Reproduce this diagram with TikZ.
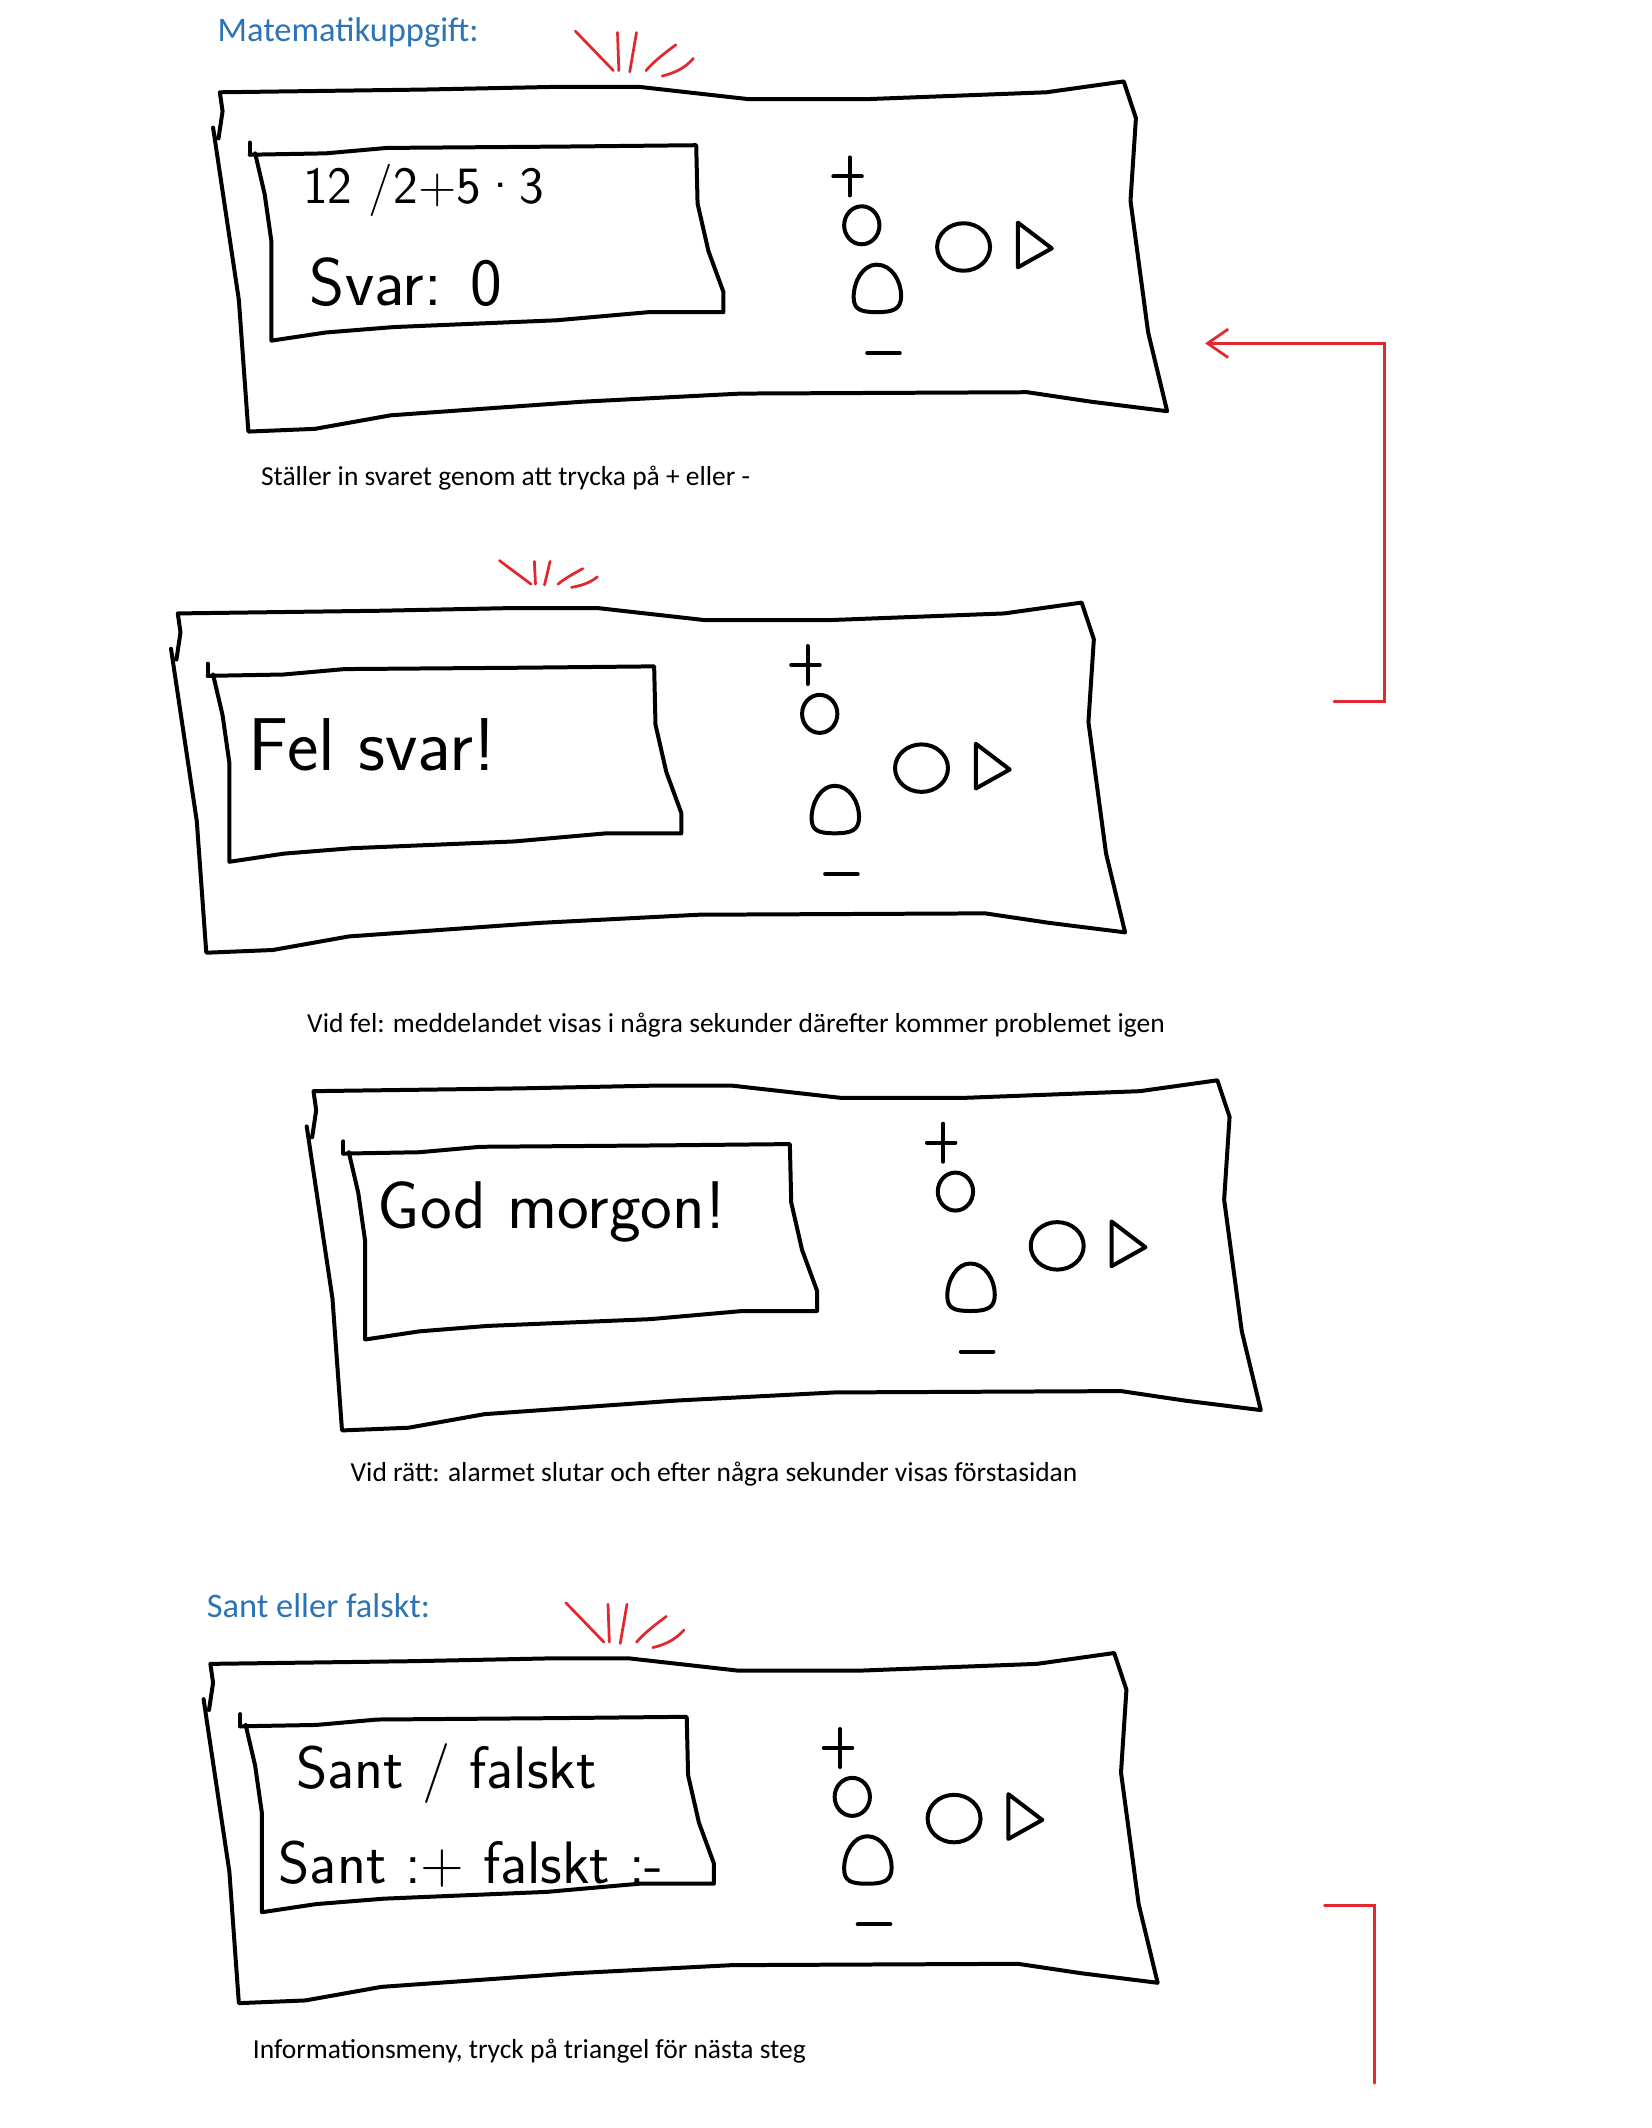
\documentclass[tikz,border=0pt]{standalone}
\usepackage{fontspec}
\setmainfont{Carlito}
\usetikzlibrary{arrows.meta}
\definecolor{headblue}{HTML}{2E74B5}
\definecolor{alarmred}{HTML}{E0282E}
\tikzset{
  pen/.style={line width=1.6pt, line join=round, line cap=round},
  redpen/.style={alarmred, line width=1.1pt, line cap=round},
  heading/.style={anchor=west, inner sep=0pt, text=headblue, font=\fontsize{13.8}{16}\selectfont},
  caption/.style={anchor=west, inner sep=0pt, font=\fontsize{11}{13}\selectfont},
  hand/.style={anchor=base west, inner sep=0pt, font=\sffamily\fontsize{#1}{#1}\selectfont},
  pics/device/.style={code={
    \draw[pen] (-1,34) -- (2,14) -- (0,0) -- (150,-2) -- (248,-4) -- (309,-4) -- (389,5) -- (478,5) -- (609,0) -- (666,-8)
      -- (675,19) -- (671,80) -- (684,177) -- (698,235)
      -- (642,228) -- (595,221) -- (384,222) -- (267,228) -- (126,238) -- (70,248) -- (21,250)
      -- (14,153) -- (-5,26);
    \draw[pen] (22,37) -- (22,46);
    \draw[pen] (22,46) -- (78,45) -- (123,41) -- (253,40) -- (351,39)
      -- (352,82) -- (360,117) -- (371,147) -- (371,162)
      -- (316,162) -- (248,168) -- (128,173) -- (78,177) -- (38,183)
      -- (38,110) -- (33,75) -- (26,45);
  }},
  pics/keypad/.style={code={
    \draw[pen] (452,{62-#1}) -- (473,{62-#1}) (464,{48-#1}) -- (464,{76-#1});
    \draw[pen] (473,{98-#1}) ellipse [x radius=13, y radius=14];
    \draw[pen] (484,127) .. controls (495,127) and (502,139) .. (502,150)
      .. controls (502,160) and (496,162) .. (484,162)
      .. controls (472,162) and (467,160) .. (467,151)
      .. controls (467,139) and (474,127) .. cycle;
    \draw[pen] (548,114) ellipse [x radius=19.5, y radius=17.5];
    \draw[pen] (588,96) -- (613,115) -- (588,129) -- cycle;
    \draw[pen] (477,192) -- (501,192);
  }},
  pics/alarm/.style={code={
    \draw[redpen] (0,0) -- (28,29) (31,1) -- (32,29) (45,1) -- (40,30)
      (74,10) .. controls (66,16) and (58,22) .. (52,29)
      (87,20) .. controls (80,28) and (72,31) .. (64,33);
  }}
}

\begin{document}
\begin{tikzpicture}[x=0.0191cm, y=-0.0191cm]
\useasboundingbox (0,0) rectangle (1217,1568);

\node[heading] (matrubrik) at (160,24) {Matematikuppgift:};
\pic at (162,68) {device};
\pic at (162,68) {keypad=0};
\pic at (424,23) {alarm};
\node[hand=21] (uttryck) at (223,150) {12 /2+5·3};
\node[hand=27] (svar) at (228,225) {Svar: 0};
\node[caption] (installning) at (192,352) {Ställer in svaret genom att trycka på + eller -};

\pic at (131,452) {device};
\pic at (131,452) {keypad=24};
\pic[xscale=0.83, yscale=0.6] at (368,413) {alarm};
\node[hand=30] (felsvar) at (183,568) {Fel svar!};
\node[caption] (vidfel) at (226,755) {Vid fel: meddelandet visas i några sekunder därefter kommer problemet igen};

\pic at (231,804) {device};
\pic at (231,804) {keypad=24};
\node[hand=27] (godmorgon) at (278,905) {God morgon!};
\node[caption] (vidratt) at (258,1086) {Vid rätt: alarmet slutar och efter några sekunder visas förstasidan};

\node[heading] (santrubrik) at (152,1183) {Sant eller falskt:};
\pic at (155,1226) {device};
\pic at (155,1226) {keypad=0};
\pic at (417,1181) {alarm};
\node[hand=24] (santfalskt) at (218,1318) {Sant / falskt};
\node[hand=24] (tangenter) at (205,1388) {Sant :+ falskt :-};
\node[caption] (infomeny) at (186,1511) {Informationsmeny, tryck på triangel för nästa steg};

\coordinate (felut) at (983,517);
\coordinate (vandning) at (1020,517);
\coordinate (matin) at (888,253);
\draw[redpen, -{Straight Barb[length=0.29cm, width=0.4cm]}] (felut) -- (vandning) |- (matin);
\coordinate (infout) at (976,1404);
\coordinate (nastasteg) at (1013,1535);
\draw[redpen] (infout) -| (nastasteg);
\end{tikzpicture}
\end{document}
